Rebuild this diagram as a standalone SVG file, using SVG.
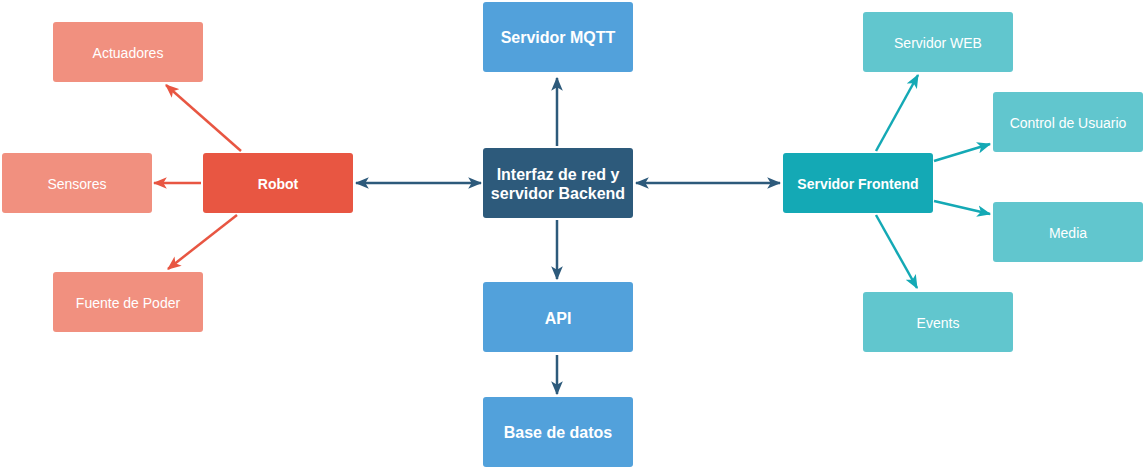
<svg xmlns="http://www.w3.org/2000/svg" width="1144" height="468" viewBox="0 0 1144 468">
<defs>
<style>
.t{font-family:"Liberation Sans",Arial,sans-serif;font-size:14px;fill:#fff;text-anchor:middle}
.b{font-weight:bold}
.c{font-size:16px}
.ln{fill:none;stroke-width:2.5}
</style>
<marker id="ar" viewBox="0 0 12 10" refX="11" refY="5" markerWidth="14" markerHeight="12" markerUnits="userSpaceOnUse" orient="auto-start-reverse"><path d="M0,0 L12,5 L0,10 L3,5 Z" fill="#E85642"/></marker>
<marker id="ad" viewBox="0 0 12 10" refX="11" refY="5" markerWidth="14" markerHeight="12" markerUnits="userSpaceOnUse" orient="auto-start-reverse"><path d="M0,0 L12,5 L0,10 L3,5 Z" fill="#2D5A7B"/></marker>
<marker id="at" viewBox="0 0 12 10" refX="11" refY="5" markerWidth="14" markerHeight="12" markerUnits="userSpaceOnUse" orient="auto-start-reverse"><path d="M0,0 L12,5 L0,10 L3,5 Z" fill="#14A9B5"/></marker>
</defs>
<rect width="1144" height="468" fill="#fff"/>
<g id="connectors">
<line class="ln" stroke="#E85642" x1="241" y1="151" x2="166" y2="85" marker-end="url(#ar)"/>
<line class="ln" stroke="#E85642" x1="201" y1="183" x2="154" y2="183" marker-end="url(#ar)"/>
<line class="ln" stroke="#E85642" x1="237" y1="215" x2="168" y2="269" marker-end="url(#ar)"/>
<line class="ln" stroke="#2D5A7B" x1="356" y1="183" x2="481" y2="183" marker-start="url(#ad)" marker-end="url(#ad)"/>
<line class="ln" stroke="#2D5A7B" x1="557" y1="146" x2="557" y2="78" marker-end="url(#ad)"/>
<line class="ln" stroke="#2D5A7B" x1="557" y1="220" x2="557" y2="279" marker-end="url(#ad)"/>
<line class="ln" stroke="#2D5A7B" x1="557" y1="355" x2="557" y2="394" marker-end="url(#ad)"/>
<line class="ln" stroke="#2D5A7B" x1="636" y1="183" x2="780" y2="183" marker-start="url(#ad)" marker-end="url(#ad)"/>
<line class="ln" stroke="#14A9B5" x1="876" y1="151" x2="918" y2="75" marker-end="url(#at)"/>
<line class="ln" stroke="#14A9B5" x1="934" y1="161" x2="990" y2="144" marker-end="url(#at)"/>
<line class="ln" stroke="#14A9B5" x1="934" y1="201" x2="990" y2="214" marker-end="url(#at)"/>
<line class="ln" stroke="#14A9B5" x1="876" y1="215" x2="917" y2="288" marker-end="url(#at)"/>
</g>
<g id="actuadores"><rect x="53" y="22" width="150" height="60" rx="3" fill="#F1907F"/><text class="t" x="128" y="58">Actuadores</text></g>
<g id="sensores"><rect x="2" y="153" width="150" height="60" rx="3" fill="#F1907F"/><text class="t" x="77" y="189">Sensores</text></g>
<g id="robot"><rect x="203" y="153" width="150" height="60" rx="3" fill="#E85642"/><text class="t b" x="278" y="189">Robot</text></g>
<g id="fuente"><rect x="53" y="272" width="150" height="60" rx="3" fill="#F1907F"/><text class="t" x="128" y="308">Fuente de Poder</text></g>
<g id="mqtt"><rect x="483" y="2" width="150" height="70" rx="3" fill="#52A1DB"/><text class="t b c" x="558" y="43">Servidor MQTT</text></g>
<g id="interfaz"><rect x="483" y="148" width="150" height="70" rx="3" fill="#2D5A7B"/><text class="t b c" x="558" y="180">Interfaz de red y</text><text class="t b c" x="558" y="199">servidor Backend</text></g>
<g id="api"><rect x="483" y="282" width="150" height="70" rx="3" fill="#52A1DB"/><text class="t b c" x="558" y="324">API</text></g>
<g id="basedatos"><rect x="483" y="397" width="150" height="70" rx="3" fill="#52A1DB"/><text class="t b c" x="558" y="438">Base de datos</text></g>
<g id="frontend"><rect x="783" y="153" width="150" height="60" rx="3" fill="#14A9B5"/><text class="t b" x="858" y="189">Servidor Frontend</text></g>
<g id="web"><rect x="863" y="12" width="150" height="60" rx="3" fill="#61C6CE"/><text class="t" x="938" y="48">Servidor WEB</text></g>
<g id="control"><rect x="993" y="92" width="150" height="60" rx="3" fill="#61C6CE"/><text class="t" x="1068" y="128">Control de Usuario</text></g>
<g id="media"><rect x="993" y="202" width="150" height="60" rx="3" fill="#61C6CE"/><text class="t" x="1068" y="238">Media</text></g>
<g id="events"><rect x="863" y="292" width="150" height="60" rx="3" fill="#61C6CE"/><text class="t" x="938" y="328">Events</text></g>
</svg>
